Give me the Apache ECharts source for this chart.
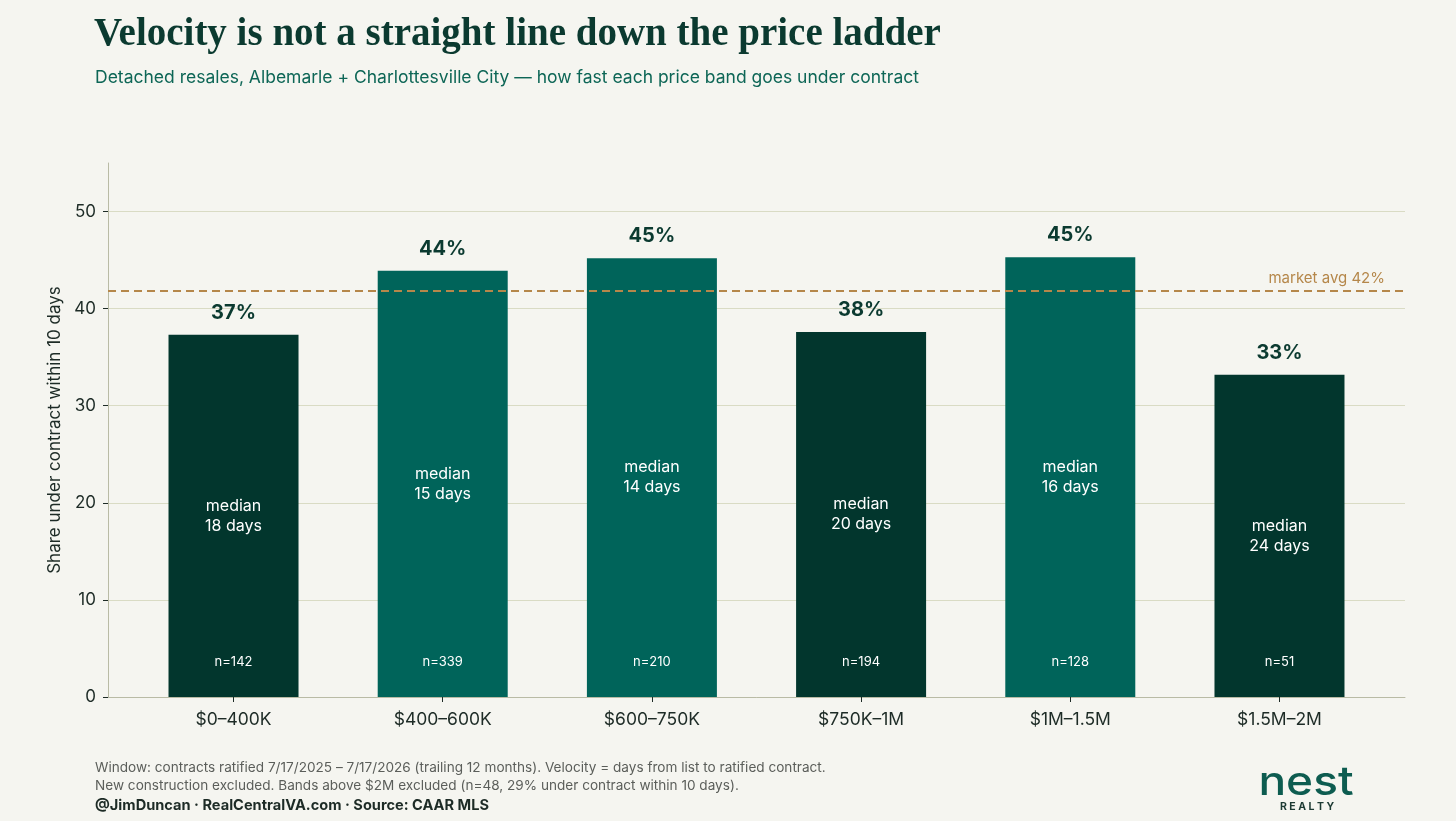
<!DOCTYPE html>
<html><head><meta charset="utf-8">
<script src="https://cdn.jsdelivr.net/npm/echarts@6/dist/echarts.min.js"></script>
<style>html,body{margin:0;padding:0;background:#f5f5f0;}#c{width:1456px;height:821px;}</style>
</head><body><div id="c"></div>
<script>
const categories = ['$0–400K','$400–600K','$600–750K','$750K–1M','$1M–1.5M','$1.5M–2M'];
const shareWithin10 = [37.3, 43.9, 45.2, 37.6, 45.3, 33.2];
const shareLabels = ['37%','44%','45%','38%','45%','33%'];
const medianDays = [18, 15, 14, 20, 16, 24];
const sampleSizes = [142, 339, 210, 194, 128, 51];
const marketAvg = 41.8;
const marketAvgLabel = 'market avg 42%';
const yTicks = [0, 10, 20, 30, 40, 50];

const DARK = '#02362d', TEAL = '#00645a', GOLD = '#b5874a', INK = '#0b3a30';
const idx = categories.map((c, i) => i);
const font = 'Inter, "Noto Sans", sans-serif';

const chart = echarts.init(document.getElementById('c'));
chart.setOption({
  backgroundColor: '#f5f5f0',
  animation: false,
  title: [
    { text: 'Velocity is not a straight line down the price ladder', left: 89, top: 10,
      textStyle: { fontFamily: '"Liberation Serif", "DejaVu Serif", serif', fontWeight: 'bold', fontSize: 39, color: INK } },
    { text: 'Detached resales, Albemarle + Charlottesville City — how fast each price band goes under contract', left: 90, top: 64,
      textStyle: { fontFamily: font, fontWeight: 'normal', fontSize: 17.5, color: '#0d6656' } }
  ],
  grid: { left: 108, right: 51, top: 163, bottom: 124 },
  xAxis: {
    type: 'value', min: -0.6, max: 5.6,
    splitLine: { show: false },
    axisLine: { show: true, onZero: false, lineStyle: { color: '#b9bba5', width: 1 } },
    axisTick: { show: true, customValues: idx, length: 5, lineStyle: { color: '#1d2b26' } },
    axisLabel: { customValues: idx, formatter: v => categories[Math.round(v)], margin: 14,
      fontFamily: font, fontSize: 17.5, color: '#1d2b26' }
  },
  yAxis: {
    type: 'value', min: 0, max: 55,
    axisLine: { show: true, onZero: false, lineStyle: { color: '#b9bba5', width: 1 } },
    axisTick: { show: true, customValues: yTicks, length: 5, lineStyle: { color: '#1d2b26' } },
    axisLabel: { customValues: yTicks, margin: 12, fontFamily: font, fontSize: 17, color: '#1d2b26' },
    splitLine: { show: true, lineStyle: { color: ['#d9dbc4','#d9dbc4','#d9dbc4','#d9dbc4','#d9dbc4','#d9dbc4','rgba(0,0,0,0)'], width: 1.2 } },
    name: 'Share under contract within 10 days', nameLocation: 'middle', nameGap: 41,
    nameTextStyle: { fontFamily: font, fontSize: 17, color: '#1d2b26' }
  },
  series: [
    {
      type: 'line', data: [], z: 1, silent: true,
      markLine: {
        symbol: 'none', silent: true,
        lineStyle: { color: GOLD, type: [8, 5], width: 2 },
        label: { position: 'insideEndTop', formatter: marketAvgLabel, color: GOLD, fontFamily: font, fontSize: 15, distance: [20, 5] },
        data: [{ yAxis: marketAvg }]
      }
    },
    {
      type: 'bar', z: 3, barWidth: 130, barGap: '-100%',
      data: shareWithin10.map((v, i) => ({ value: [i, v], itemStyle: { color: v > marketAvg ? TEAL : DARK } })),
      label: { show: true, position: 'inside', formatter: p => 'median\n' + medianDays[p.dataIndex] + ' days',
        color: '#ffffff', fontFamily: font, fontSize: 16, lineHeight: 20 }
    },
    {
      type: 'bar', z: 4, barWidth: 130, barGap: '-100%',
      data: shareWithin10.map((v, i) => [i, v]),
      itemStyle: { color: 'rgba(0,0,0,0)' },
      label: { show: true, position: 'top', distance: 12, formatter: p => shareLabels[p.dataIndex],
        color: INK, fontFamily: font, fontWeight: 'bold', fontSize: 20 }
    },
    {
      type: 'bar', z: 4, barWidth: 130, barGap: '-100%',
      data: shareWithin10.map((v, i) => [i, v]),
      itemStyle: { color: 'rgba(0,0,0,0)' },
      label: { show: true, position: 'insideBottom', distance: 28, formatter: p => 'n=' + sampleSizes[p.dataIndex],
        color: '#ffffff', fontFamily: font, fontSize: 13 }
    }
  ],
  graphic: [
    { type: 'text', left: 95, top: 761, style: { text: 'Window: contracts ratified 7/17/2025 – 7/17/2026 (trailing 12 months). Velocity = days from list to ratified contract.', font: '13.6px ' + font, fill: '#5b5e5a' } },
    { type: 'text', left: 95, top: 779, style: { text: 'New construction excluded. Bands above $2M excluded (n=48, 29% under contract within 10 days).', font: '13.6px ' + font, fill: '#5b5e5a' } },
    { type: 'text', left: 95, top: 798, style: { text: '@JimDuncan · RealCentralVA.com · Source: CAAR MLS', font: 'bold 14.6px ' + font, fill: '#1d2b26' } },
    { type: 'text', x: 1306, y: 783, scaleX: 1.15, originX: 0, originY: 0, style: { text: 'nest', font: '500 40px ' + font, fill: '#0d5c50', align: 'center', verticalAlign: 'middle' } },
    { type: 'text', x: 1307, y: 807, style: { text: 'R E A L T Y', font: 'bold 10.5px ' + font, fill: '#1d3a33', align: 'center', verticalAlign: 'middle' } }
  ]
});
</script></body></html>
